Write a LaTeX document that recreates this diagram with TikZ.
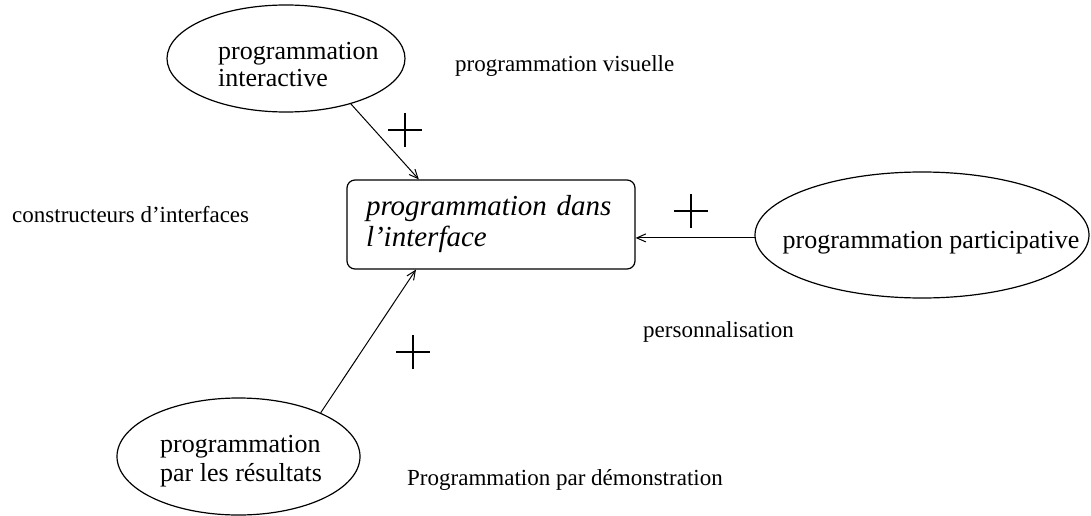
\documentclass[tikz,border=0pt]{standalone}
\usepackage{fontspec}
\setmainfont{Liberation Serif}
\usetikzlibrary{arrows.meta,shapes.geometric}
\begin{document}
\begin{tikzpicture}[x=1pt,y=-1pt,
  ell/.style={draw,ellipse,line width=1.2pt,inner sep=0pt},
  etext/.style={inner sep=0pt,align=left,font=\fontsize{26}{27}\selectfont},
  lbl/.style={inner sep=0pt,anchor=base west,font=\fontsize{23}{26}\selectfont},
  bigbox/.style={draw,rounded corners=8pt,line width=1.2pt,inner xsep=19pt,inner ysep=0pt,
    text width=250pt,minimum height=89pt,align=left,font=\fontsize{29}{31}\selectfont\itshape},
  arr/.style={line width=1pt,-{Straight Barb[length=9pt,width=8pt]}},
  plus/.pic={\draw[line width=1.1pt] (-17,0)--(17,0) (0,-17)--(0,17);}
]
\useasboundingbox[fill=white] (0,0) rectangle (1091,516);

\node[bigbox] (box) at (491,224.5) {programmation dans\\l'interface};

\node[ell,minimum width=238pt,minimum height=107pt] (ei) at (286,58.5) {};
\node[etext,anchor=west] (ti) at (218,65) {programmation\\interactive};

\node[ell,minimum width=334pt,minimum height=126pt] (ep) at (922,235) {};
\node[etext] (tp) at (931,243) {programmation participative};

\node[ell,minimum width=243pt,minimum height=117pt] (el) at (238.5,456.5) {};
\node[etext,anchor=west,font=\fontsize{26}{29}\selectfont] (tl) at (160,461) {programmation\\par les résultats};

\node[lbl] (visu) at (455,72) {programmation visuelle};
\node[lbl] (cons) at (12,222) {constructeurs d'interfaces};
\node[lbl] (pers) at (643,337) {personnalisation};
\node[lbl] (demo) at (407,485) {Programmation par démonstration};

\draw[arr] (ei.-35) -- (box.148);
\draw[arr] (ep.181) -- (ep.181 -| box.east);
\draw[arr] (el.28) -- (box.211);

\pic at (405,130) {plus};
\pic at (691,211) {plus};
\pic at (413,352) {plus};
\end{tikzpicture}
\end{document}
